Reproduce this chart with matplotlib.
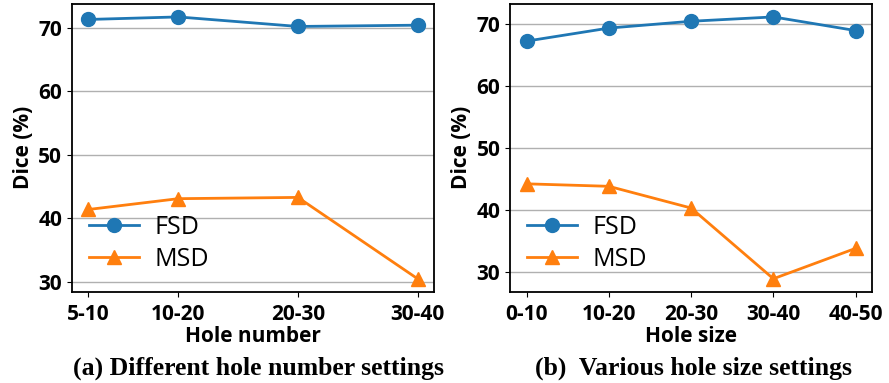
import numpy as np
import matplotlib.pyplot as plt

# panel (a): hole number
num_labels = ['5-10', '10-20', '20-30', '30-40']
num_x = [7.5, 15, 25, 35]
num_fsd = [71.3, 71.7, 70.2, 70.4]
num_msd = [41.4, 43.1, 43.3, 30.5]

# panel (b): hole size
size_labels = ['0-10', '10-20', '20-30', '30-40', '40-50']
size_x = [5, 15, 25, 35, 45]
size_fsd = [67.2, 69.3, 70.4, 71.1, 68.9]
size_msd = [44.2, 43.8, 40.3, 28.9, 33.8]

plt.rcParams['font.family'] = ['Open Sans', 'DejaVu Sans']

fig, (ax1, ax2) = plt.subplots(1, 2, figsize=(8.89, 3.83), dpi=100)
fig.subplots_adjust(left=0.081, right=0.981, top=0.99, bottom=0.238, wspace=0.21)


def draw(ax, x, fsd, msd, labels, xlabel):
    ax.plot(x, fsd, marker='o', color='tab:blue', linewidth=2, markersize=10, label='FSD')
    ax.plot(x, msd, marker='^', color='tab:orange', linewidth=2, markersize=10, label='MSD')
    ax.set_xticks(x)
    ax.set_xticklabels(labels)
    ax.set_yticks([30, 40, 50, 60, 70])
    ax.yaxis.grid(True, color='#b0b0b0', linewidth=1)
    ax.set_axisbelow(True)
    ax.tick_params(axis='x', pad=5)
    for lab in ax.get_xticklabels() + ax.get_yticklabels():
        lab.set_fontweight('bold')
        lab.set_fontsize(15)
    ax.set_xlabel(xlabel, fontsize=15, fontweight='bold', labelpad=1)
    ax.set_ylabel('Dice (%)', fontsize=15, fontweight='bold', labelpad=3)
    for s in ax.spines.values():
        s.set_linewidth(1.3)
    ax.legend(loc='lower left', bbox_to_anchor=(-0.015, -0.01), frameon=False,
              fontsize=18, handlelength=2.0, handletextpad=0.6, labelspacing=0.3)


draw(ax1, num_x, num_fsd, num_msd, num_labels, 'Hole number')
draw(ax2, size_x, size_fsd, size_msd, size_labels, 'Hole size')

fig.text(0.291, 0.039, '(a) Different hole number settings', ha='center', va='center',
         fontsize=18.5, fontweight='bold', family='Liberation Serif')
fig.text(0.78, 0.039, '(b)  Various hole size settings', ha='center', va='center',
         fontsize=18.5, fontweight='bold', family='Liberation Serif')

fig.savefig('out.png', dpi=100)
